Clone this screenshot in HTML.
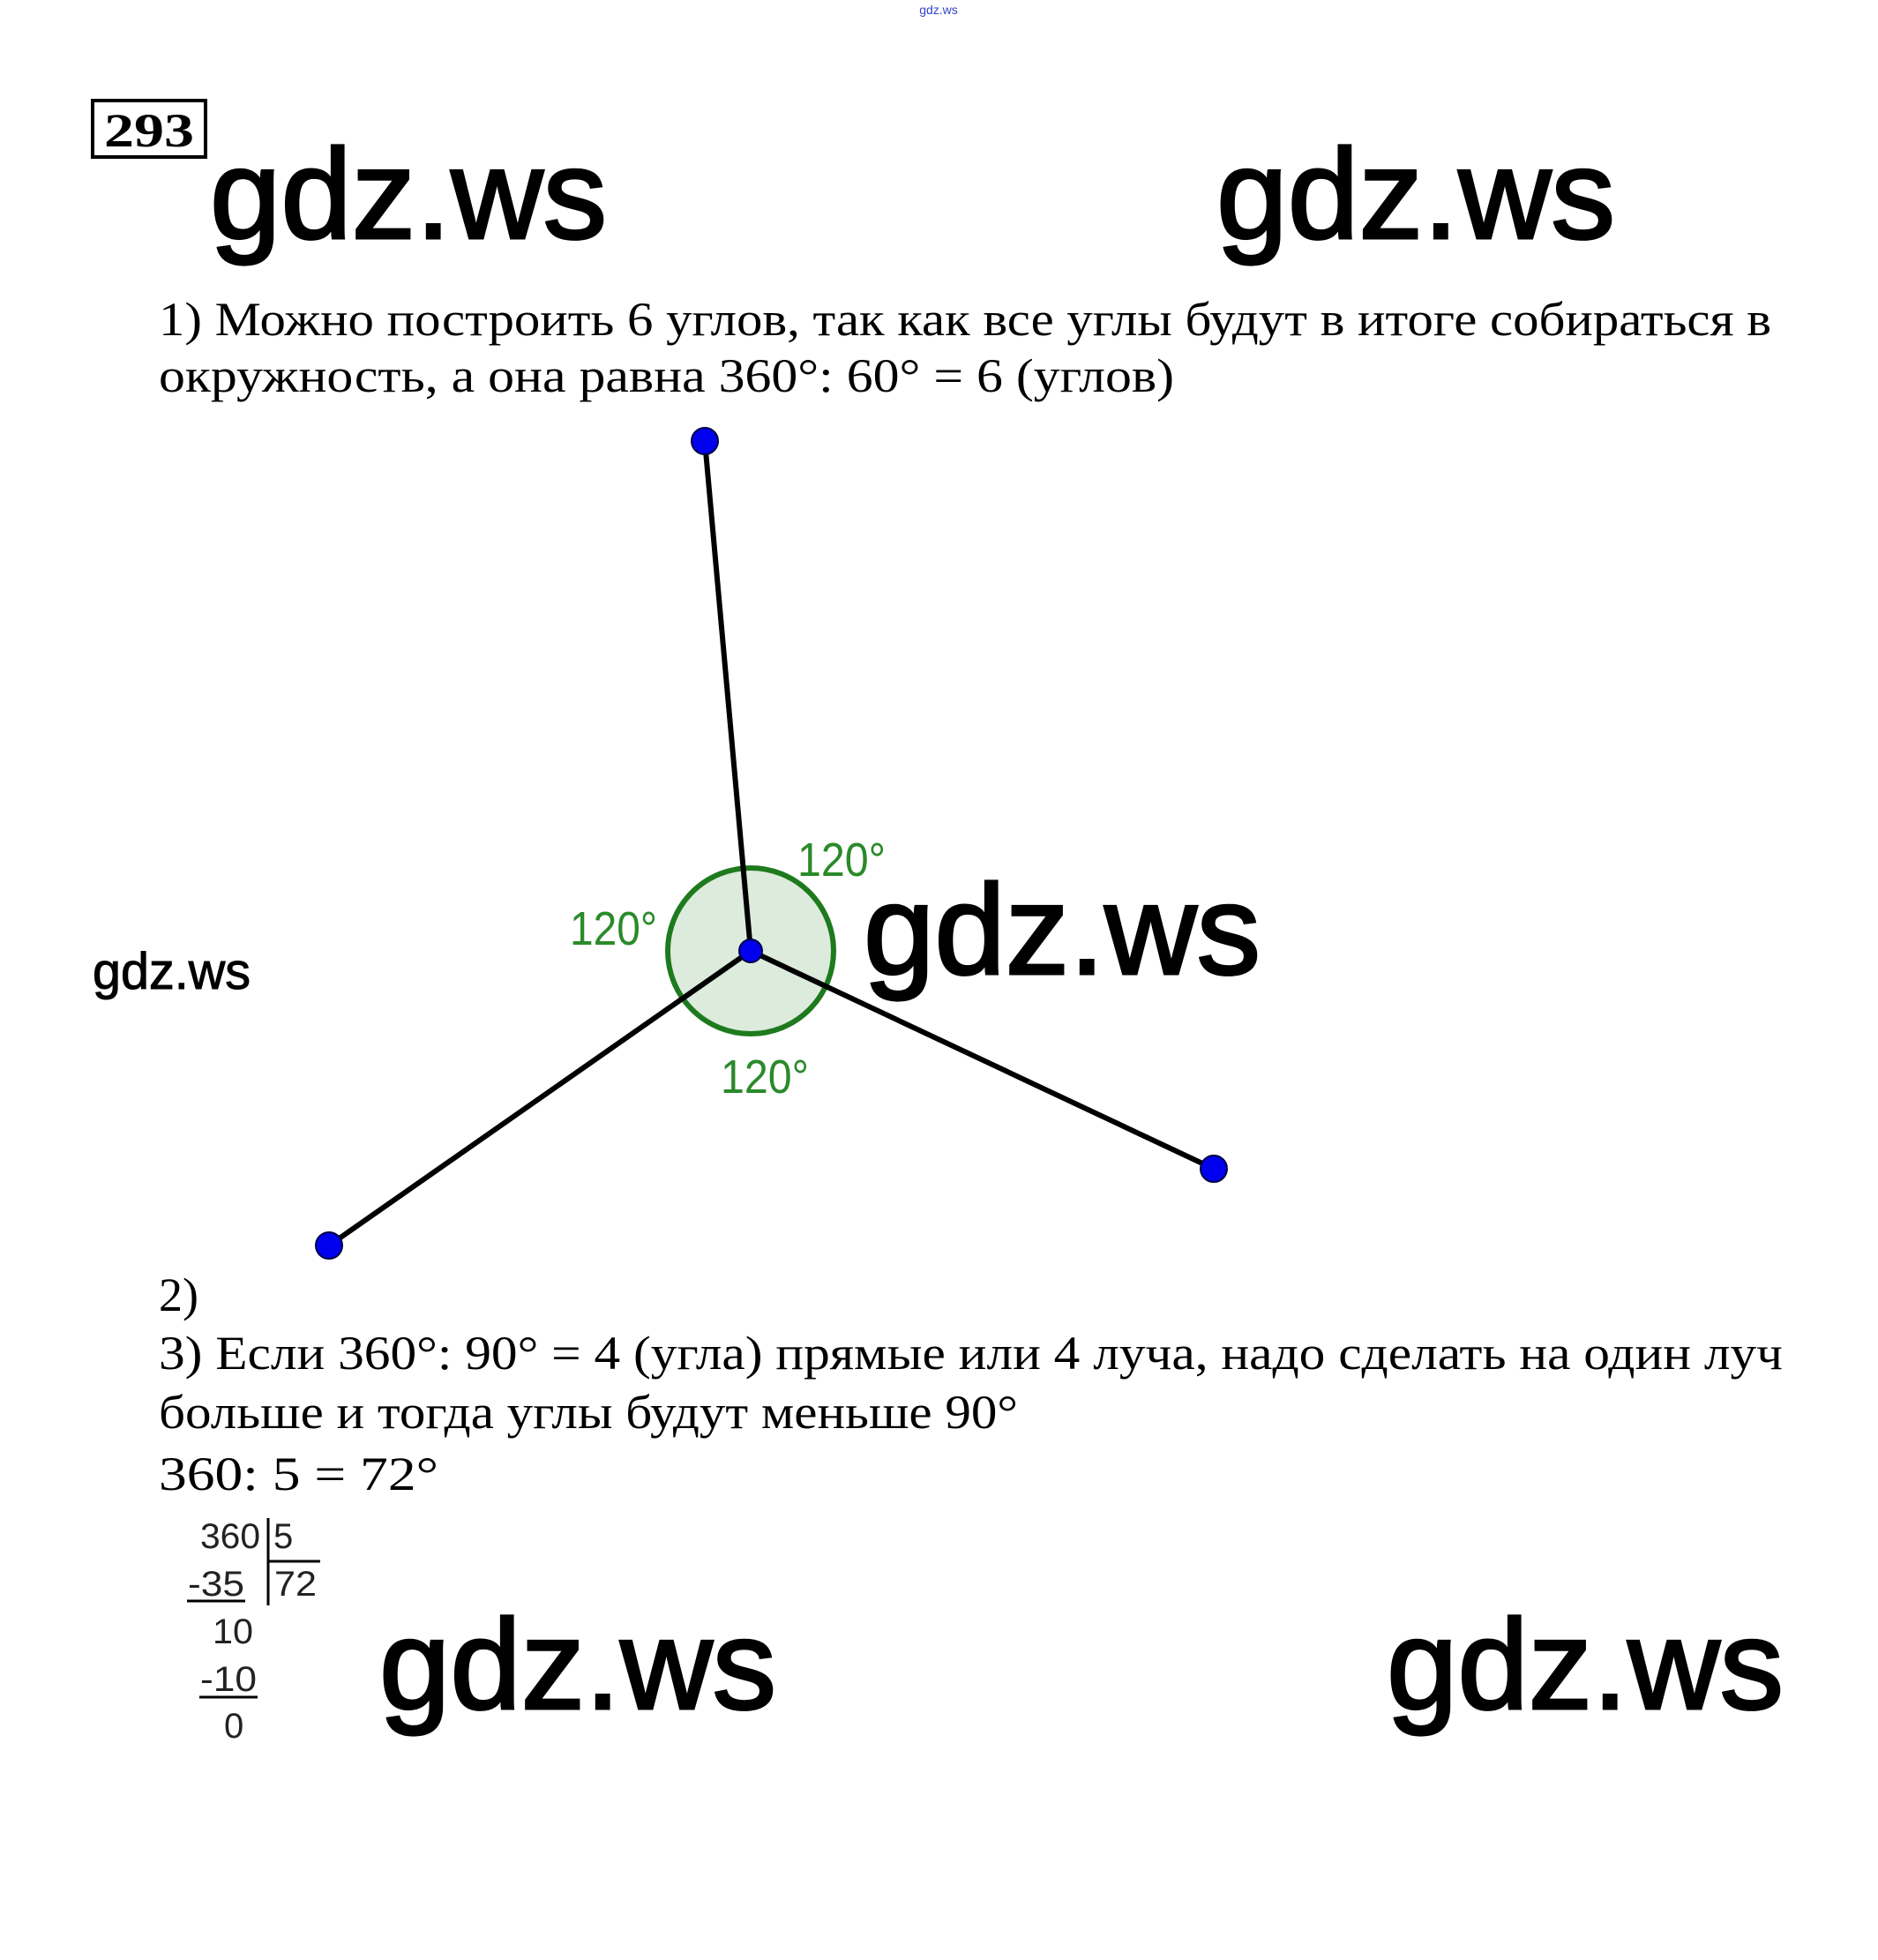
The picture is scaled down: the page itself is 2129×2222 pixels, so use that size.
<!DOCTYPE html>
<html><head><meta charset="utf-8"><style>
html,body{margin:0;padding:0;background:#fff;}
svg{display:block;}
</style></head><body>
<svg width="2129" height="2222" viewBox="0 0 2129 2222" xmlns="http://www.w3.org/2000/svg">
<rect width="2129" height="2222" fill="#fff"/>
<text x="1064" y="16" font-family="Liberation Sans, sans-serif" font-size="14" fill="#3344cc" text-anchor="middle">gdz.ws</text>
<rect x="105" y="114" width="128" height="64" fill="none" stroke="#000" stroke-width="4"/>
<text x="118" y="166" font-family="Liberation Serif, serif" font-weight="bold" font-size="54" textLength="102" lengthAdjust="spacingAndGlyphs">293</text>
<g font-family="Liberation Sans, sans-serif" font-size="145" fill="#000" stroke="#000" stroke-width="3">
<text x="238" y="270" textLength="450" lengthAdjust="spacingAndGlyphs">gdz.ws</text>
<text x="1379" y="270" textLength="452" lengthAdjust="spacingAndGlyphs">gdz.ws</text>
<text x="979" y="1104" textLength="450" lengthAdjust="spacingAndGlyphs">gdz.ws</text>
<text x="430" y="1937" textLength="450" lengthAdjust="spacingAndGlyphs">gdz.ws</text>
<text x="1572" y="1937" textLength="450" lengthAdjust="spacingAndGlyphs">gdz.ws</text>
</g>
<text x="105" y="1121" font-family="Liberation Sans, sans-serif" font-size="58" stroke="#000" stroke-width="1" textLength="179" lengthAdjust="spacingAndGlyphs">gdz.ws</text>
<g font-family="Liberation Serif, serif" font-size="54" fill="#000">
<text x="180" y="380" textLength="1828" lengthAdjust="spacingAndGlyphs">1) Можно построить 6 углов, так как все углы будут в итоге собираться в</text>
<text x="180" y="444" textLength="1151" lengthAdjust="spacingAndGlyphs">окружность, а она равна 360°: 60° = 6 (углов)</text>
<text x="180" y="1486">2)</text>
<text x="180" y="1552" textLength="1841" lengthAdjust="spacingAndGlyphs">3) Если 360°: 90° = 4 (угла) прямые или 4 луча, надо сделать на один луч</text>
<text x="180" y="1619" textLength="974" lengthAdjust="spacingAndGlyphs">больше и тогда углы будут меньше 90°</text>
<text x="180" y="1689" textLength="317" lengthAdjust="spacingAndGlyphs">360: 5 = 72°</text>
</g>
<circle cx="851" cy="1078" r="94" fill="#dcebdc" stroke="#1e7a1e" stroke-width="6"/>
<g stroke="#000" stroke-width="6" stroke-linecap="round">
<line x1="799" y1="500" x2="851" y2="1078"/>
<line x1="851" y1="1078" x2="373" y2="1412"/>
<line x1="851" y1="1078" x2="1376" y2="1325"/>
</g>
<g fill="#0000ee" stroke="#000044" stroke-width="2">
<circle cx="799" cy="500" r="15"/>
<circle cx="373" cy="1412" r="15"/>
<circle cx="1376" cy="1325" r="15"/>
<circle cx="851" cy="1078" r="13"/>
</g>
<g font-family="Liberation Sans, sans-serif" font-size="54" fill="#2a8a2a">
<text x="904" y="993" textLength="100" lengthAdjust="spacingAndGlyphs">120°</text>
<text x="646" y="1071" textLength="99" lengthAdjust="spacingAndGlyphs">120°</text>
<text x="817" y="1239" textLength="100" lengthAdjust="spacingAndGlyphs">120°</text>
</g>
<g font-family="Liberation Sans, sans-serif" font-size="40" fill="#222">
<text x="227" y="1755" textLength="68" lengthAdjust="spacingAndGlyphs">360</text>
<text x="310" y="1755">5</text>
<text x="213" y="1809" textLength="64" lengthAdjust="spacingAndGlyphs">-35</text>
<text x="311" y="1809" textLength="48" lengthAdjust="spacingAndGlyphs">72</text>
<text x="241" y="1863" textLength="46" lengthAdjust="spacingAndGlyphs">10</text>
<text x="227" y="1917" textLength="64" lengthAdjust="spacingAndGlyphs">-10</text>
<text x="254" y="1970">0</text>
</g>
<g stroke="#000" stroke-width="3">
<line x1="304" y1="1721" x2="304" y2="1820"/>
<line x1="304" y1="1770" x2="363" y2="1770"/>
<line x1="212" y1="1815" x2="278" y2="1815"/>
<line x1="226" y1="1924" x2="292" y2="1924"/>
</g>
</svg>
</body></html>
